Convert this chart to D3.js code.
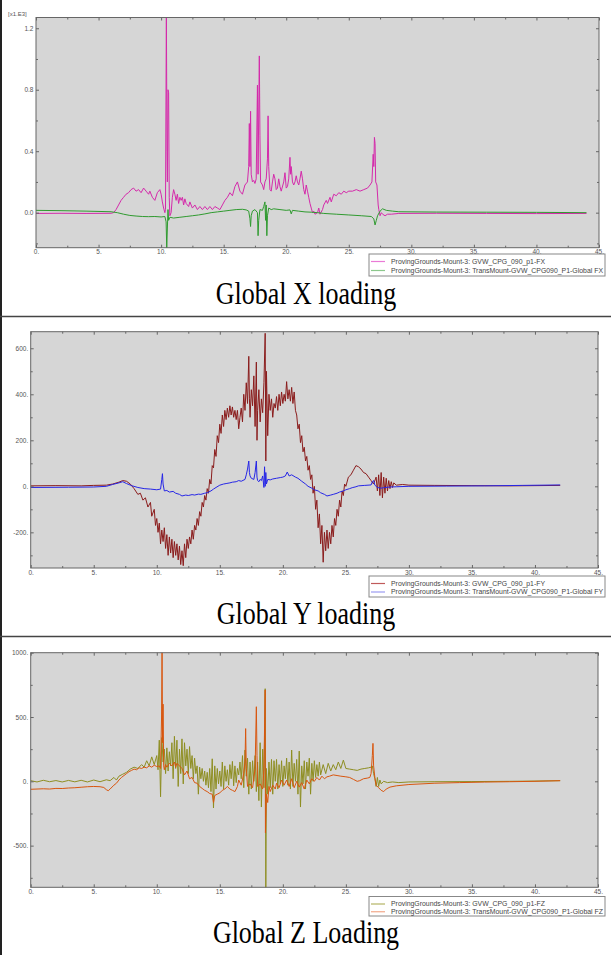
<!DOCTYPE html>
<html><head><meta charset="utf-8">
<script src="https://cdn.jsdelivr.net/npm/d3@7/dist/d3.min.js"></script>
<style>body{margin:0;background:#fff}svg{display:block}</style>
</head><body>
<svg id="c" width="611" height="955"></svg>
<script>
// ---------- tick values / labels ----------
const xTicks = [0,5,10,15,20,25,30,35,40,45];
const xTickLabels = ["0.","5.","10.","15.","20.","25.","30.","35.","40.","45."];
const xMinor = [2.5,7.5,12.5,17.5,22.5,27.5,32.5,37.5,42.5];
const fxTicks = [0,0.4,0.8,1.2];
const fxTickLabels = ["0.0","0.4","0.8","1.2"];
const fxMinor = [-0.2,0.2,0.6,1.0];
const fyTicks = [-200,0,200,400,600];
const fyTickLabels = ["-200.","0.","200.","400.","600."];
const fyMinor = [-300,-100,100,300,500];
const fzTicks = [-500,0,500,1000];
const fzTickLabels = ["-500.","0.","500.","1000."];
const fzMinor = [-750,-250,250,750];

const titles = ["Global X loading","Global Y loading","Global Z Loading"];
const legendX = ["ProvingGrounds-Mount-3: GVW_CPG_090_p1-FX","ProvingGrounds-Mount-3: TransMount-GVW_CPG090_P1-Global FX"];
const legendY = ["ProvingGrounds-Mount-3: GVW_CPG_090_p1-FY","ProvingGrounds-Mount-3: TransMount-GVW_CPG090_P1-Global FY"];
const legendZ = ["ProvingGrounds-Mount-3: GVW_CPG_090_p1-FZ","ProvingGrounds-Mount-3: TransMount-GVW_CPG090_P1-Global FZ"];

// ---------- series (time s, value) ----------
// FX in [x1.E3]
const fxGvw = [[0,-0.005],[2,-0.004],[4,-0.005],[6,-0.004],[6.2,0.0],[6.4,0.02],[6.6,0.05],[6.8,0.08],[7.0,0.1],[7.2,0.12],[7.4,0.13],[7.6,0.15],[7.8,0.16],[8.0,0.14],[8.2,0.15],[8.4,0.13],[8.6,0.16],[8.8,0.14],[9.0,0.12],[9.1,0.14],[9.3,0.1],[9.5,0.08],[9.7,0.13],[9.9,0.15],[10.0,0.12],[10.1,0.07],[10.2,0.03],[10.3,0.0],[10.35,0.02],[10.42,1.3],[10.47,0.4],[10.5,0.2],[10.55,0.8],[10.6,0.78],[10.65,0.1],[10.7,-0.02],[10.8,0.0],[10.9,0.1],[11.0,0.15],[11.1,0.12],[11.2,0.08],[11.3,0.12],[11.4,0.06],[11.5,0.1],[11.6,0.08],[11.7,0.1],[11.8,0.05],[11.9,0.09],[12.0,0.06],[12.2,0.04],[12.3,0.07],[12.5,0.03],[12.7,0.05],[12.9,0.02],[13.1,0.04],[13.3,0.02],[13.5,0.04],[13.7,0.02],[13.9,0.04],[14.1,0.02],[14.3,0.04],[14.5,0.03],[14.7,0.02],[14.9,0.05],[15.1,0.08],[15.3,0.1],[15.5,0.13],[15.7,0.11],[15.9,0.17],[16.1,0.2],[16.3,0.14],[16.5,0.12],[16.7,0.18],[16.9,0.2],[17.0,0.3],[17.05,0.58],[17.1,0.3],[17.15,0.66],[17.2,0.25],[17.3,0.2],[17.4,0.21],[17.5,0.19],[17.6,0.22],[17.7,0.83],[17.75,0.25],[17.85,1.02],[17.9,0.5],[17.95,0.2],[18.1,0.18],[18.2,0.15],[18.3,0.2],[18.4,0.22],[18.5,0.35],[18.55,0.63],[18.6,0.3],[18.7,0.15],[18.8,0.14],[18.9,0.2],[19.0,0.25],[19.1,0.22],[19.2,0.15],[19.3,0.16],[19.4,0.22],[19.5,0.17],[19.6,0.14],[19.8,0.2],[19.9,0.26],[20.0,0.16],[20.1,0.17],[20.2,0.22],[20.3,0.36],[20.35,0.25],[20.4,0.3],[20.5,0.2],[20.6,0.18],[20.7,0.2],[20.8,0.24],[20.9,0.2],[21.0,0.18],[21.1,0.22],[21.2,0.27],[21.3,0.22],[21.4,0.15],[21.5,0.12],[21.6,0.18],[21.7,0.14],[21.8,0.1],[21.9,0.06],[22.0,0.03],[22.1,0.0],[22.2,0.01],[22.3,-0.01],[22.5,0.0],[22.6,0.03],[22.7,-0.01],[22.9,0.02],[23.0,0.05],[23.2,0.08],[23.3,0.06],[23.5,0.1],[23.6,0.07],[23.8,0.12],[24.0,0.11],[24.2,0.13],[24.4,0.12],[24.6,0.14],[24.8,0.13],[25.0,0.14],[25.3,0.14],[25.6,0.15],[25.9,0.14],[26.2,0.15],[26.5,0.16],[26.7,0.18],[26.85,0.2],[26.95,0.38],[27.0,0.3],[27.05,0.49],[27.1,0.45],[27.15,0.2],[27.25,0.18],[27.35,0.05],[27.4,0.02],[27.5,-0.02],[27.6,0.0],[27.7,-0.01],[27.9,-0.02],[28.1,-0.01],[28.4,-0.01],[29,-0.005],[32,-0.004],[36,-0.005],[40,-0.006],[44,-0.005]];
const fxTrans = [[0,0.015],[2,0.013],[4,0.01],[6,0.006],[6.5,0.0],[7,-0.01],[7.5,-0.018],[8,-0.022],[8.5,-0.025],[9,-0.026],[9.5,-0.025],[10,-0.028],[10.3,-0.025],[10.4,-0.06],[10.45,-0.23],[10.5,-0.1],[10.55,0.02],[10.6,-0.05],[10.7,-0.03],[11,-0.035],[11.5,-0.03],[12,-0.025],[12.5,-0.02],[13,-0.015],[13.5,-0.008],[14,0.0],[14.5,0.005],[15,0.01],[15.5,0.015],[16,0.02],[16.5,0.022],[16.8,0.018],[17.0,0.01],[17.1,-0.04],[17.15,-0.09],[17.2,-0.02],[17.3,0.01],[17.5,0.02],[17.7,0.0],[17.75,-0.15],[17.8,-0.05],[17.9,0.02],[18.1,0.015],[18.2,0.04],[18.3,0.07],[18.35,-0.05],[18.4,0.05],[18.45,-0.15],[18.5,-0.02],[18.6,0.03],[18.8,0.02],[19.0,0.025],[19.5,0.02],[20.0,0.015],[20.3,0.018],[20.4,-0.008],[20.5,0.015],[21,0.01],[21.5,0.005],[22,0.003],[22.5,0.0],[23,-0.005],[24,-0.01],[25,-0.015],[26,-0.02],[26.8,-0.025],[27.0,-0.04],[27.1,-0.08],[27.2,-0.05],[27.3,-0.02],[27.5,0.01],[27.7,0.025],[28,0.015],[28.5,0.01],[29,0.006],[32,0.004],[36,0.003],[40,0.002],[44,0.0]];

// FY in N
const fyGvw = [[0,2],[2,3],[4,2],[5,4],[6,5],[6.5,10],[7,18],[7.3,25],[7.6,22],[7.9,10],[8.2,-10],[8.5,-35],[8.7,-30],[8.9,-60],[9.1,-50],[9.3,-90],[9.5,-70],[9.6,-130],[9.8,-100],[9.9,-170],[10.0,-140],[10.1,-200],[10.2,-160],[10.3,-250],[10.4,-190],[10.5,-240],[10.6,-180],[10.7,-270],[10.8,-210],[10.9,-300],[11.0,-220],[11.1,-290],[11.2,-230],[11.3,-310],[11.4,-240],[11.5,-300],[11.6,-250],[11.7,-320],[11.8,-260],[11.9,-340],[12.0,-280],[12.1,-345],[12.2,-250],[12.3,-310],[12.4,-230],[12.5,-270],[12.6,-220],[12.7,-250],[12.8,-190],[12.9,-230],[13.0,-170],[13.1,-190],[13.2,-140],[13.3,-170],[13.4,-110],[13.5,-130],[13.6,-70],[13.7,-90],[13.8,-40],[13.9,-60],[14.0,-10],[14.1,-30],[14.2,30],[14.3,10],[14.4,90],[14.5,80],[14.6,160],[14.7,130],[14.8,220],[14.9,190],[15.0,270],[15.1,230],[15.2,310],[15.3,260],[15.4,330],[15.5,290],[15.6,340],[15.7,300],[15.8,350],[15.9,310],[16.0,345],[16.1,300],[16.2,330],[16.3,290],[16.4,330],[16.5,250],[16.6,300],[16.7,340],[16.8,280],[16.9,400],[17.0,330],[17.1,450],[17.2,360],[17.3,565],[17.35,380],[17.4,300],[17.5,420],[17.6,350],[17.7,480],[17.8,260],[17.9,540],[17.95,200],[18.0,330],[18.1,420],[18.2,280],[18.3,380],[18.4,320],[18.5,450],[18.6,665],[18.65,110],[18.7,500],[18.8,220],[18.9,400],[19.0,330],[19.1,380],[19.2,300],[19.3,360],[19.4,340],[19.5,390],[19.6,330],[19.7,400],[19.8,350],[19.9,410],[20.0,360],[20.1,400],[20.2,370],[20.3,455],[20.4,380],[20.5,420],[20.6,370],[20.7,430],[20.8,360],[20.9,410],[21.0,330],[21.1,310],[21.2,250],[21.3,270],[21.4,190],[21.5,220],[21.6,150],[21.7,170],[21.8,110],[21.9,130],[22.0,70],[22.1,90],[22.2,30],[22.3,50],[22.4,-30],[22.5,0],[22.6,-100],[22.7,-60],[22.8,-180],[22.9,-120],[23.0,-250],[23.1,-170],[23.2,-330],[23.3,-200],[23.4,-280],[23.5,-190],[23.6,-270],[23.7,-200],[23.8,-250],[23.9,-170],[24.0,-220],[24.1,-140],[24.2,-170],[24.3,-100],[24.4,-130],[24.5,-60],[24.6,-90],[24.7,-20],[24.8,-40],[24.9,10],[25.0,0],[25.2,40],[25.4,50],[25.6,70],[25.8,90],[26.0,85],[26.2,75],[26.4,60],[26.6,55],[26.8,40],[27.0,25],[27.2,10],[27.4,40],[27.5,-20],[27.6,50],[27.7,-40],[27.8,60],[27.9,-50],[28.0,40],[28.1,-30],[28.2,35],[28.3,-20],[28.4,25],[28.5,-10],[28.6,20],[28.7,-5],[28.8,15],[29.0,5],[29.5,8],[30,5],[32,4],[35,3],[38,2],[40,3],[42,4]];
const fyTrans = [[0,-5],[3,-4],[5,-3],[6,0],[6.5,8],[7,15],[7.3,20],[7.6,12],[8,3],[8.5,-5],[9,-10],[9.5,-12],[10,-15],[10.3,-12],[10.4,30],[10.45,55],[10.5,10],[10.6,-20],[10.8,-18],[11,-25],[11.3,-22],[11.5,-30],[11.8,-35],[12,-42],[12.3,-38],[12.5,-40],[12.8,-36],[13,-38],[13.3,-34],[13.5,-35],[13.8,-30],[14,-28],[14.3,-20],[14.5,-12],[14.7,-5],[15,5],[15.3,10],[15.5,12],[15.8,15],[16,18],[16.3,20],[16.5,25],[16.7,22],[17,30],[17.1,50],[17.2,75],[17.3,110],[17.35,60],[17.4,45],[17.5,35],[17.7,30],[17.8,60],[17.9,110],[17.95,40],[18.0,25],[18.1,20],[18.2,30],[18.3,25],[18.4,45],[18.5,-5],[18.55,85],[18.6,0],[18.65,60],[18.7,10],[18.8,30],[19,28],[19.2,32],[19.5,35],[19.8,38],[20,40],[20.2,45],[20.35,62],[20.5,45],[20.7,50],[21,40],[21.2,35],[21.5,22],[21.8,10],[22,0],[22.3,-8],[22.5,-15],[22.8,-20],[23,-28],[23.3,-35],[23.5,-42],[23.8,-38],[24,-35],[24.3,-30],[24.5,-25],[24.8,-20],[25,-15],[25.3,-10],[25.5,-6],[25.8,-2],[26,2],[26.5,4],[27,6],[27.1,20],[27.2,25],[27.3,5],[27.5,-5],[27.8,-8],[28,-6],[28.5,-3],[29,-2],[30,0],[33,1],[36,2],[39,4],[42,6]];

// FZ in N
const fzGvw = [[0,5],[0.5,-5],[1,8],[1.5,-3],[2,6],[2.5,-5],[3,7],[3.5,-4],[4,8],[4.5,-5],[5,10],[5.5,-3],[6,12],[6.3,5],[6.6,30],[6.8,10],[7,40],[7.3,55],[7.6,70],[7.9,95],[8.2,110],[8.5,100],[8.8,130],[9.0,110],[9.2,160],[9.4,120],[9.6,190],[9.8,130],[10.0,200],[10.1,90],[10.2,320],[10.3,-120],[10.4,340],[10.5,150],[10.6,250],[10.7,60],[10.8,260],[10.9,80],[11.0,230],[11.1,120],[11.2,300],[11.3,20],[11.4,350],[11.5,100],[11.6,320],[11.7,-40],[11.8,250],[11.9,60],[12.0,330],[12.1,-20],[12.2,300],[12.3,120],[12.4,250],[12.5,60],[12.6,270],[12.7,100],[12.8,200],[12.9,20],[13.0,180],[13.1,60],[13.2,120],[13.3,-100],[13.4,110],[13.5,20],[13.6,100],[13.7,0],[13.8,80],[13.9,-30],[14.0,70],[14.1,-50],[14.2,100],[14.3,-80],[14.4,175],[14.5,-207],[14.6,120],[14.7,-60],[14.8,100],[14.9,-20],[15.0,80],[15.1,-40],[15.2,150],[15.3,-60],[15.4,120],[15.5,0],[15.6,90],[15.7,-30],[15.8,130],[15.9,20],[16.0,155],[16.1,-35],[16.2,120],[16.3,-10],[16.4,100],[16.5,50],[16.6,150],[16.7,20],[16.8,200],[16.9,-50],[17.0,243],[17.1,40],[17.2,180],[17.3,-100],[17.4,150],[17.5,-60],[17.6,160],[17.7,0],[17.8,200],[17.9,-80],[18.0,150],[18.1,-150],[18.2,300],[18.3,-200],[18.4,250],[18.5,-50],[18.6,720],[18.65,-830],[18.7,100],[18.8,-100],[18.9,150],[19.0,-50],[19.1,170],[19.2,-100],[19.3,160],[19.4,0],[19.5,170],[19.6,-60],[19.7,130],[19.8,-20],[19.9,160],[20.0,-40],[20.1,120],[20.2,20],[20.3,180],[20.4,-30],[20.5,150],[20.6,-60],[20.7,243],[20.8,-40],[20.9,140],[21.0,0],[21.1,170],[21.2,-100],[21.3,235],[21.4,-200],[21.5,120],[21.6,-20],[21.7,160],[21.8,-60],[21.9,150],[22.0,40],[22.1,180],[22.2,-100],[22.3,140],[22.4,0],[22.5,160],[22.6,30],[22.7,130],[22.8,40],[22.9,150],[23.0,50],[23.2,130],[23.4,60],[23.6,140],[23.8,80],[24.0,130],[24.2,90],[24.4,150],[24.6,100],[24.8,165],[25.0,100],[25.3,95],[25.6,90],[25.9,85],[26.2,95],[26.5,100],[26.8,105],[27.0,110],[27.1,120],[27.2,60],[27.3,20],[27.4,-40],[27.5,30],[27.6,-40],[27.7,10],[27.8,-20],[28.0,0],[28.3,-10],[28.7,-5],[29.2,-10],[30,-5],[32,-3],[35,-2],[38,0],[40,2],[42,5]];
const fzTrans = [[0,-62],[0.5,-60],[1,-58],[1.5,-60],[2,-55],[2.5,-56],[3,-52],[3.5,-50],[4,-46],[4.5,-42],[5,-40],[5.5,-42],[5.8,-48],[6.0,-65],[6.15,-73],[6.3,-60],[6.6,-30],[6.8,-15],[7.0,10],[7.2,30],[7.4,45],[7.6,60],[7.8,75],[8.0,85],[8.2,95],[8.4,90],[8.6,105],[8.8,100],[9.0,110],[9.2,105],[9.4,120],[9.6,110],[9.8,125],[10.0,115],[10.2,120],[10.3,100],[10.38,500],[10.42,1010],[10.46,300],[10.5,600],[10.55,120],[10.6,90],[10.7,130],[10.8,110],[11.0,140],[11.2,120],[11.4,150],[11.5,110],[11.6,140],[11.8,120],[12.0,100],[12.2,50],[12.4,80],[12.6,20],[12.8,30],[13.0,-10],[13.2,-15],[13.4,-40],[13.6,-55],[13.8,-70],[14.0,-80],[14.2,-95],[14.4,-100],[14.5,-165],[14.6,-110],[14.8,-100],[15.0,-90],[15.2,-70],[15.4,-60],[15.6,-40],[15.8,-60],[16.0,-70],[16.2,-80],[16.4,-40],[16.5,10],[16.7,-30],[16.9,60],[17.0,150],[17.05,410],[17.1,100],[17.2,-40],[17.4,-20],[17.6,-50],[17.8,100],[17.9,580],[17.95,200],[18.0,-40],[18.2,-20],[18.4,-60],[18.5,100],[18.6,710],[18.62,-400],[18.7,-100],[18.8,-165],[18.9,-40],[19.0,-80],[19.2,-30],[19.4,-60],[19.5,-15],[19.7,-50],[19.9,10],[20.1,-30],[20.3,10],[20.5,-40],[20.7,20],[20.9,-50],[21.1,0],[21.3,-45],[21.5,-10],[21.7,-60],[21.9,10],[22.1,-20],[22.3,20],[22.5,0],[22.7,30],[22.9,10],[23.1,40],[23.3,20],[23.5,35],[23.7,40],[24.0,50],[24.3,45],[24.6,40],[25.0,35],[25.3,30],[25.6,15],[25.9,0],[26.1,5],[26.4,20],[26.7,25],[26.9,30],[27.0,60],[27.1,200],[27.15,295],[27.2,120],[27.3,30],[27.4,-30],[27.6,-50],[27.8,-70],[28.0,-80],[28.2,-60],[28.5,-45],[29,-35],[30,-25],[32,-15],[34,-10],[36,-6],[38,-3],[40,0],[42,5]];

// ---------- drawing ----------
const svg = d3.select("#c");
const defs = svg.append("defs");
const FONT = "'Liberation Sans', Arial, sans-serif";

function panel(cfg) {
  const x = d3.scaleLinear().domain([0, 45]).range([cfg.l, cfg.r]);
  const y = d3.scaleLinear().domain(cfg.yd).range([cfg.b, cfg.t]);
  const g = svg.append("g");
  g.append("rect").attr("x", cfg.l).attr("y", cfg.t)
    .attr("width", cfg.r - cfg.l).attr("height", cfg.b - cfg.t).attr("fill", "#d6d6d6");
  defs.append("clipPath").attr("id", "clip" + cfg.id).append("rect")
    .attr("x", cfg.l).attr("y", cfg.t).attr("width", cfg.r - cfg.l).attr("height", cfg.b - cfg.t);
  const line = d3.line().x(d => x(d[0])).y(d => y(d[1]));
  const dg = g.append("g").attr("clip-path", `url(#clip${cfg.id})`);
  cfg.series.forEach(s => {
    dg.append("path").datum(s.data).attr("d", line).attr("fill", "none")
      .attr("stroke", s.color).attr("stroke-width", 1).attr("stroke-linejoin", "round");
  });
  const ax = (axis, tr) => g.append("g").attr("transform", tr).call(axis)
    .call(a => a.select(".domain").remove());
  ax(d3.axisBottom(x).tickValues(xTicks).tickSize(-3).tickPadding(2)
    .tickFormat((d, i) => xTickLabels[i]), `translate(0,${cfg.b})`);
  ax(d3.axisBottom(x).tickValues(xMinor).tickSize(-2).tickFormat(""), `translate(0,${cfg.b})`);
  ax(d3.axisTop(x).tickValues(xTicks).tickSize(-3).tickFormat(""), `translate(0,${cfg.t})`);
  ax(d3.axisTop(x).tickValues(xMinor).tickSize(-2).tickFormat(""), `translate(0,${cfg.t})`);
  ax(d3.axisLeft(y).tickValues(cfg.yTicks).tickSize(-3).tickPadding(2.5)
    .tickFormat((d, i) => cfg.yLabels[i]), `translate(${cfg.l},0)`);
  ax(d3.axisLeft(y).tickValues(cfg.yMinor.filter(v => v > cfg.yd[0] && v < cfg.yd[1])).tickSize(-2).tickFormat(""), `translate(${cfg.l},0)`);
  ax(d3.axisRight(y).tickValues(cfg.yTicks).tickSize(-3).tickFormat(""), `translate(${cfg.r},0)`);
  ax(d3.axisRight(y).tickValues(cfg.yMinor.filter(v => v > cfg.yd[0] && v < cfg.yd[1])).tickSize(-2).tickFormat(""), `translate(${cfg.r},0)`);
  g.selectAll(".tick line").attr("stroke", "#666").attr("stroke-width", 1);
  g.selectAll(".tick text").attr("fill", "#555").style("font-family", FONT).style("font-size", "6.5px");
  g.append("rect").attr("x", cfg.l).attr("y", cfg.t)
    .attr("width", cfg.r - cfg.l).attr("height", cfg.b - cfg.t)
    .attr("fill", "none").attr("stroke", "#666").attr("stroke-width", 1);
  if (cfg.unit) {
    g.append("text").attr("x", 8).attr("y", 15.5).text(cfg.unit)
      .attr("fill", "#555").style("font-family", FONT).style("font-size", "6px");
  }
  // legend
  const lg = g.append("g");
  lg.append("rect").attr("x", 369).attr("y", cfg.legTop).attr("width", 236).attr("height", cfg.legH)
    .attr("fill", "#fff").attr("stroke", "#888").attr("stroke-width", 1);
  cfg.legend.forEach((t, i) => {
    const yy = cfg.legTop + 7.5 + i * (cfg.legH - 4) / 2;
    lg.append("line").attr("x1", 371).attr("x2", 385).attr("y1", yy).attr("y2", yy)
      .attr("stroke", cfg.series[i].legColor).attr("stroke-width", 1.2);
    lg.append("text").attr("x", 391).attr("y", yy).attr("dy", "0.35em").text(t)
      .attr("fill", "#444").style("font-family", FONT).style("font-size", "6.5px")
      .attr("textLength", i === 0 ? 154 : 212).attr("lengthAdjust", "spacingAndGlyphs");
  });
  // title
  g.append("text").attr("transform", `translate(306,${cfg.titleY}) scale(1,1.25)`)
    .attr("text-anchor", "middle").text(cfg.title)
    .style("font-family", "'Liberation Serif','Times New Roman',serif").style("font-size", "26px")
    .attr("fill", "#000");
}

panel({id: 1, l: 36, r: 599, t: 17.5, b: 247.7, yd: [-0.228, 1.27],
  yTicks: fxTicks, yLabels: fxTickLabels, yMinor: fxMinor, unit: "[x1.E3]",
  series: [{data: fxGvw, color: "#d42aaa", legColor: "#ea7ad6"},
           {data: fxTrans, color: "#2f9a2f", legColor: "#8cc88c"}],
  legend: legendX, legTop: 254, legH: 22, title: titles[0], titleY: 304});

panel({id: 2, l: 30.7, r: 598, t: 331.7, b: 568, yd: [-355, 672],
  yTicks: fyTicks, yLabels: fyTickLabels, yMinor: fyMinor,
  series: [{data: fyGvw, color: "#8a1c1c", legColor: "#c05a5a"},
           {data: fyTrans, color: "#2626e6", legColor: "#9a9af2"}],
  legend: legendY, legTop: 576, legH: 21, title: titles[1], titleY: 624});

panel({id: 3, l: 30.7, r: 598, t: 652.7, b: 887.3, yd: [-824, 1000],
  yTicks: fzTicks, yLabels: fzTickLabels, yMinor: fzMinor,
  series: [{data: fzGvw, color: "#8e8e22", legColor: "#b4b464"},
           {data: fzTrans, color: "#d8560f", legColor: "#f2a88a"}],
  legend: legendZ, legTop: 896.5, legH: 19.5, title: titles[2], titleY: 943});

// page frame / separators
svg.append("line").attr("x1", 1).attr("x2", 1).attr("y1", 0).attr("y2", 955)
  .attr("stroke", "#222").attr("stroke-width", 2);
[316.5, 636.5].forEach(yy => svg.append("line").attr("x1", 0).attr("x2", 611)
  .attr("y1", yy).attr("y2", yy).attr("stroke", "#444").attr("stroke-width", 1.5));
</script>
</body></html>
